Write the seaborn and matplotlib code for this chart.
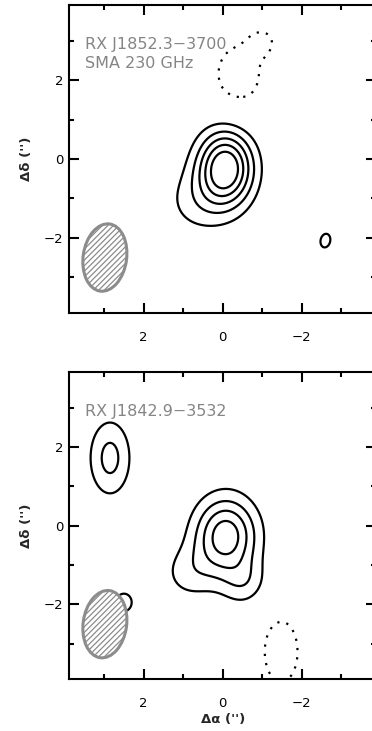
import numpy as np
import matplotlib
matplotlib.use("Agg")
import matplotlib.pyplot as plt
from matplotlib.patches import Ellipse
import seaborn as sns

# Offsets in arcsec; contour levels in units of the map rms
levels = [-3, 3, 6, 9, 12, 15]

# RX J1852.3-3700: Gaussian components (centre, widths, position angle, peak)
j1852_x0 = [-0.07, 0.62, -2.60, -0.40, -1.05]
j1852_y0 = [-0.22, -1.08, -2.07, 2.14, 3.00]
j1852_sx = [0.485, 0.62, 0.28, 0.62, 0.30]
j1852_sy = [0.65, 0.60, 0.40, 0.82, 0.30]
j1852_pa = [0.0, 0.0, 12.0, 0.0, 30.0]
j1852_peak = [18.2, 3.8, 3.3, -4.2, -2.5]

# RX J1842.9-3532
j1842_x0 = [-0.08, 0.85, -0.55, 2.85, 2.50, -1.48]
j1842_y0 = [-0.26, -1.20, -1.45, 1.72, -1.95, -3.20]
j1842_sx = [0.55, 0.50, 0.40, 0.377, 0.35, 0.46]
j1842_sy = [0.68, 0.50, 0.42, 0.69, 0.40, 0.85]
j1842_pa = [0.0, 0.0, 0.0, 0.0, 0.0, 0.0]
j1842_peak = [14.0, 3.8, 4.2, 7.0, 3.5, -4.5]

# Synthesized beam (arcsec, deg)
beam_x, beam_y = 2.98, -2.50
beam_minor, beam_major, beam_pa = 1.10, 1.72, 8.0

panel_labels = [["RX J1852.3\u22123700", "SMA 230 GHz"], ["RX J1842.9\u22123532"]]

sns.set_theme(style="ticks")
plt.rcParams.update({
    "font.family": ["DejaVu Sans"],
    "axes.linewidth": 1.5,
    "xtick.direction": "in",
    "ytick.direction": "in",
    "xtick.top": True,
    "ytick.right": True,
    "xtick.major.size": 7.5,
    "ytick.major.size": 7.5,
    "xtick.minor.size": 3.8,
    "ytick.minor.size": 3.8,
    "xtick.major.width": 1.5,
    "ytick.major.width": 1.5,
    "xtick.minor.width": 1.5,
    "ytick.minor.width": 1.5,
    "xtick.color": "black",
    "ytick.color": "black",
    "axes.edgecolor": "black",
    "hatch.color": "#8c8c8c",
    "hatch.linewidth": 0.9,
})

grid = np.linspace(-4.2, 4.2, 421)
X, Y = np.meshgrid(grid, grid)


def build_map(x0, y0, sx, sy, pa, peak):
    z = np.zeros_like(X)
    for cx, cy, wx, wy, ang, amp in zip(x0, y0, sx, sy, pa, peak):
        t = np.deg2rad(ang)
        dx, dy = X - cx, Y - cy
        u = dx * np.cos(t) + dy * np.sin(t)
        v = -dx * np.sin(t) + dy * np.cos(t)
        z += amp * np.exp(-0.5 * ((u / wx) ** 2 + (v / wy) ** 2))
    return z


maps = [
    build_map(j1852_x0, j1852_y0, j1852_sx, j1852_sy, j1852_pa, j1852_peak),
    build_map(j1842_x0, j1842_y0, j1842_sx, j1842_sy, j1842_pa, j1842_peak),
]

W, H = 372, 731
fig = plt.figure(figsize=(W / 100, H / 100), dpi=100)
boxes = [
    [69.3 / W, 418.3 / H, 306.7 / W, 307.7 / H],
    [69.3 / W, 51.7 / H, 306.7 / W, 307.6 / H],
]

for i, (box, z) in enumerate(zip(boxes, maps)):
    ax = fig.add_axes(box)
    styles = [(0, (1, 3.2)) if lv < 0 else "solid" for lv in levels]
    ax.contour(X, Y, z, levels=levels, colors="black", linewidths=1.6,
               linestyles=styles)
    beam = Ellipse((beam_x, beam_y), beam_minor, beam_major, angle=beam_pa,
                   facecolor="white", edgecolor="#8c8c8c", linewidth=2.2,
                   hatch="//////", zorder=5)
    ax.add_patch(beam)
    ax.set_xlim(3.88, -3.88)
    ax.set_ylim(-3.9, 3.91)
    ax.set_xticks([2, 0, -2])
    ax.set_yticks([-2, 0, 2])
    ax.set_xticks([3, 1, -1, -3], minor=True)
    ax.set_yticks([-3, -1, 1, 3], minor=True)
    ax.set_xticklabels(["2", "0", "\u22122"])
    ax.set_yticklabels(["\u22122", "0", "2"])
    ax.tick_params(axis="x", which="major", labelsize=9.5, pad=13)
    ax.tick_params(axis="y", which="major", labelsize=9.5, pad=4)
    ax.set_ylabel("\u0394\u03b4 ('')", fontsize=9.5, fontweight="bold", labelpad=8)
    if i == 1:
        ax.set_xlabel("\u0394\u03b1 ('')", fontsize=9.5, fontweight="bold", labelpad=2)
    ax.text(3.49, 3.1, "\n".join(panel_labels[i]), color="#858585",
            fontsize=11.5, va="top", ha="left", linespacing=1.35, zorder=6)

fig.savefig("out.png", dpi=100)
